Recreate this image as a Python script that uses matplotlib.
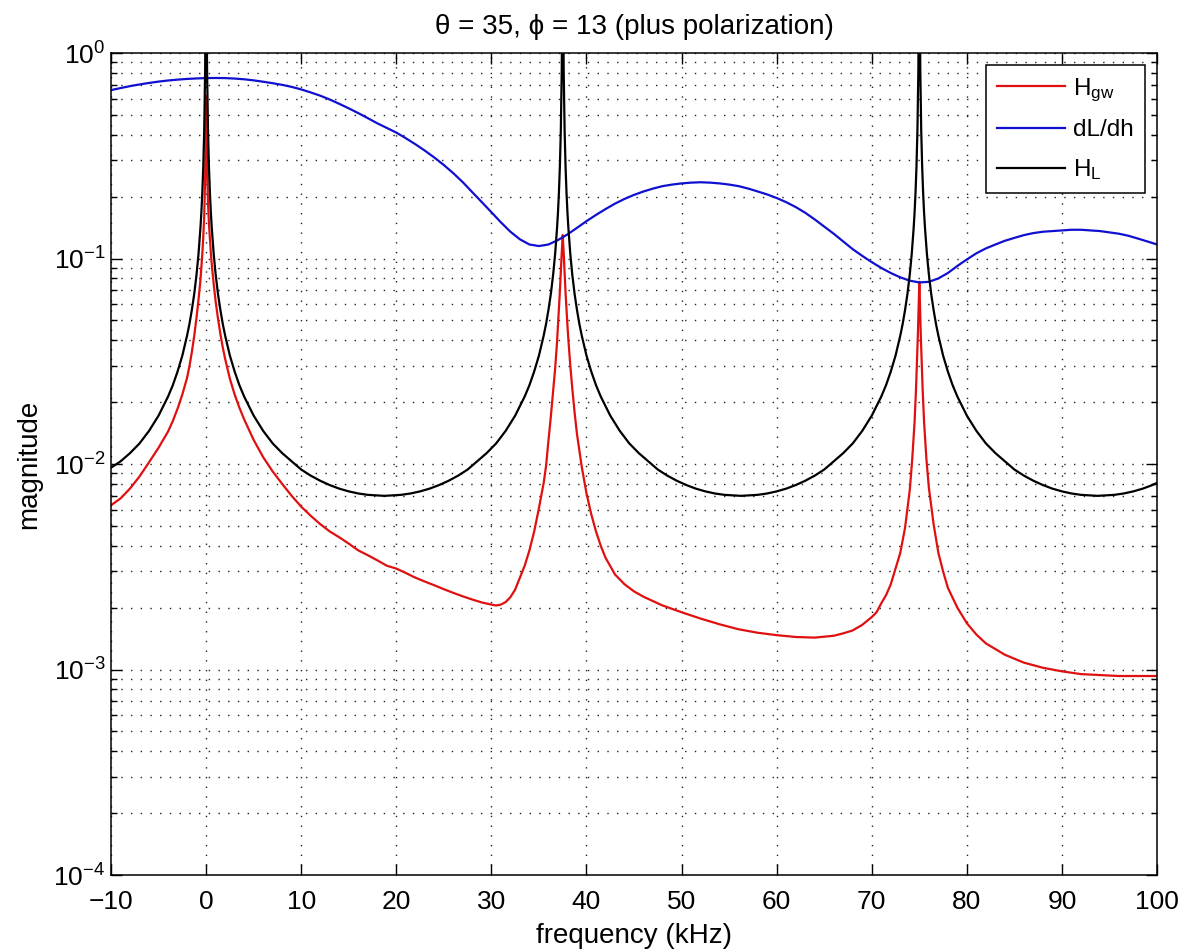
import matplotlib
matplotlib.use("Agg")
import matplotlib.pyplot as plt
from matplotlib.ticker import LogLocator, FixedLocator

plt.rcParams['font.family'] = ['Liberation Sans', 'DejaVu Sans']
plt.rcParams['mathtext.default'] = 'regular'

# H_gw (kHz, magnitude)
freq_gw = [-10, -9, -8, -7, -6, -5, -4, -3.5, -3, -2.5,
           -2, -1.75, -1.5, -1.25, -1, -0.8, -0.6, -0.5, -0.4, -0.3,
           -0.2, -0.1, -0.05, 0, 0.05, 0.1, 0.2, 0.3, 0.4, 0.5,
           0.6, 0.8, 1, 1.25, 1.5, 1.75, 2, 2.5, 3, 3.5,
           4, 5, 6, 7, 8, 9, 10, 11, 12, 13,
           14, 15, 16, 17, 18, 19, 20, 21, 22, 23,
           24, 25, 26, 27, 28, 29, 30, 30.5, 31, 31.5,
           32, 32.5, 33, 33.5, 34, 34.5, 35, 35.5, 35.75, 36,
           36.25, 36.5, 36.7, 36.9, 37, 37.1, 37.2, 37.3, 37.4, 37.5,
           37.6, 37.7, 37.8, 37.9, 38, 38.1, 38.3, 38.5, 38.75, 39,
           39.5, 40, 40.5, 41, 41.5, 42, 43, 44, 45, 46,
           48, 50, 52, 54, 56, 58, 60, 62, 64, 66,
           67, 68, 69, 70, 70.5, 71, 71.5, 72, 72.5, 73,
           73.5, 74, 74.25, 74.5, 74.65, 74.75, 74.85, 74.93, 75, 75.07,
           75.15, 75.25, 75.35, 75.5, 75.75, 76, 76.5, 77, 77.5, 78,
           79, 80, 81, 82, 84, 86, 88, 90, 92, 94,
           96, 98, 100]
h_gw = [0.0063, 0.0068, 0.0076, 0.0087, 0.0102, 0.0120, 0.0144, 0.0162, 0.0186, 0.0218,
        0.0263, 0.030, 0.035, 0.042, 0.052, 0.063, 0.078, 0.090, 0.105, 0.127,
        0.16, 0.25, 0.36, 0.62, 0.40, 0.28, 0.185, 0.148, 0.124, 0.106,
        0.093, 0.075, 0.062, 0.051, 0.043, 0.037, 0.0325, 0.026, 0.0218, 0.0188,
        0.0165, 0.0131, 0.0108, 0.0092, 0.0080, 0.0070, 0.0062, 0.0056, 0.0051, 0.0047,
        0.0044, 0.0041, 0.0038, 0.0036, 0.0034, 0.0032, 0.0031, 0.00295, 0.0028, 0.00268,
        0.00257, 0.00246, 0.00236, 0.00227, 0.00219, 0.00212, 0.00207, 0.00205, 0.00207, 0.00213,
        0.00225, 0.00245, 0.0028, 0.0032, 0.0038, 0.0047, 0.0061, 0.0081, 0.0098, 0.013,
        0.017, 0.023, 0.029, 0.039, 0.047, 0.057, 0.069, 0.086, 0.107, 0.13,
        0.107, 0.085, 0.068, 0.056, 0.047, 0.040, 0.030, 0.0235, 0.0178, 0.0140,
        0.0097, 0.0072, 0.0057, 0.0047, 0.0040, 0.0035, 0.0029, 0.0026, 0.0024, 0.00226,
        0.00205, 0.0019, 0.00177, 0.00166, 0.00157, 0.00151, 0.00147, 0.00144, 0.00143, 0.00146,
        0.0015, 0.00155, 0.00165, 0.0018, 0.0019, 0.0021, 0.0023, 0.0026, 0.0031, 0.0037,
        0.0049, 0.0075, 0.0105, 0.016, 0.023, 0.031, 0.043, 0.060, 0.077, 0.060,
        0.043, 0.031, 0.023, 0.016, 0.0105, 0.0077, 0.0051, 0.0037, 0.0030, 0.0025,
        0.0020, 0.00168, 0.00148, 0.00134, 0.00118, 0.00108, 0.00102, 0.00098, 0.00095, 0.00094,
        0.00093, 0.00093, 0.00093]

# H_L
freq_l = [-10, -9, -8, -7, -6, -5, -4, -3.5, -3, -2.5,
          -2, -1.75, -1.5, -1.25, -1, -0.8, -0.6, -0.5, -0.4, -0.3,
          -0.2, -0.1, 0, 0.1, 0.2, 0.3, 0.4, 0.5, 0.6, 0.8,
          1, 1.25, 1.5, 1.75, 2, 2.5, 3, 3.5, 4, 5,
          6, 7, 8, 9, 10, 11, 12, 13, 14, 15,
          16, 17, 18.75, 20.5, 21.5, 22.5, 23.5, 24.5, 25.5, 26.5,
          27.5, 28.5, 29.5, 30.5, 31.5, 32.5, 33.5, 34, 34.5, 35,
          35.5, 35.75, 36, 36.25, 36.5, 36.7, 36.9, 37, 37.1, 37.2,
          37.3, 37.4, 37.5, 37.6, 37.7, 37.8, 37.9, 38, 38.1, 38.3,
          38.5, 38.75, 39, 39.25, 39.5, 40, 40.5, 41, 41.5, 42.5,
          43.5, 44.5, 45.5, 46.5, 47.5, 48.5, 49.5, 50.5, 51.5, 52.5,
          53.5, 54.5, 56.25, 58, 59, 60, 61, 62, 63, 64,
          65, 66, 67, 68, 69, 70, 71, 71.5, 72, 72.5,
          73, 73.25, 73.5, 73.75, 74, 74.2, 74.4, 74.5, 74.6, 74.7,
          74.8, 74.9, 75, 75.1, 75.2, 75.3, 75.4, 75.5, 75.6, 75.8,
          76, 76.25, 76.5, 76.75, 77, 77.5, 78, 78.5, 79, 80,
          81, 82, 83, 84, 85, 86, 87, 88, 89, 90,
          91, 92, 93.75, 95.5, 96.5, 97.5, 98.5, 99.5, 100]
h_l = [0.0096, 0.0103, 0.0113, 0.0126, 0.0145, 0.0172, 0.0213, 0.0242, 0.0282, 0.0337,
       0.0422, 0.0481, 0.0562, 0.0672, 0.084, 0.105, 0.140, 0.167, 0.209, 0.279,
       0.418, 0.836, 5.0, 0.836, 0.418, 0.279, 0.209, 0.167, 0.140, 0.105,
       0.084, 0.0672, 0.0562, 0.0481, 0.0422, 0.0337, 0.0282, 0.0242, 0.0213, 0.0172,
       0.0145, 0.0126, 0.0113, 0.0103, 0.0094, 0.00878, 0.00829, 0.0079, 0.00759, 0.00736,
       0.00719, 0.00708, 0.0070, 0.00708, 0.00719, 0.00736, 0.00759, 0.0079, 0.00829, 0.00878,
       0.0094, 0.0103, 0.0113, 0.0126, 0.0145, 0.0172, 0.0213, 0.0242, 0.0282, 0.0337,
       0.0422, 0.0481, 0.0562, 0.0672, 0.084, 0.105, 0.140, 0.167, 0.209, 0.279,
       0.418, 0.836, 5.0, 0.836, 0.418, 0.279, 0.209, 0.167, 0.140, 0.105,
       0.084, 0.0672, 0.0562, 0.0481, 0.0422, 0.0337, 0.0282, 0.0242, 0.0213, 0.0172,
       0.0145, 0.0126, 0.0113, 0.0103, 0.0094, 0.00878, 0.00829, 0.0079, 0.00759, 0.00736,
       0.00719, 0.00708, 0.0070, 0.00708, 0.00719, 0.00736, 0.00759, 0.0079, 0.00829, 0.00878,
       0.0094, 0.0103, 0.0113, 0.0126, 0.0145, 0.0172, 0.0213, 0.0242, 0.0282, 0.0337,
       0.0422, 0.0481, 0.0562, 0.0672, 0.084, 0.105, 0.140, 0.167, 0.209, 0.279,
       0.418, 0.836, 5.0, 0.836, 0.418, 0.279, 0.209, 0.167, 0.140, 0.105,
       0.084, 0.0672, 0.0562, 0.0481, 0.0422, 0.0337, 0.0282, 0.0242, 0.0213, 0.0172,
       0.0145, 0.0126, 0.0113, 0.0103, 0.0094, 0.00878, 0.00829, 0.0079, 0.00759, 0.00736,
       0.00719, 0.00708, 0.0070, 0.00708, 0.00719, 0.00736, 0.00759, 0.0079, 0.0081]

# dL/dh, one value per kHz from -10 to 100
freq_d = list(range(-10, 101))
dl_dh = [0.660, 0.675, 0.690, 0.703, 0.715, 0.726, 0.735, 0.742, 0.748, 0.752,
         0.755, 0.756, 0.755, 0.751, 0.745, 0.736, 0.725, 0.713, 0.700, 0.684,
         0.665, 0.643, 0.620, 0.594, 0.566, 0.538, 0.510, 0.482, 0.455, 0.432,
         0.410, 0.385, 0.360, 0.335, 0.310, 0.285, 0.260, 0.235, 0.210, 0.188,
         0.168, 0.150, 0.135, 0.124, 0.117, 0.115, 0.117, 0.123, 0.131, 0.141,
         0.152, 0.163, 0.174, 0.185, 0.195, 0.204, 0.212, 0.219, 0.225, 0.229,
         0.232, 0.234, 0.235, 0.234, 0.232, 0.229, 0.225, 0.219, 0.212, 0.205,
         0.197, 0.188, 0.178, 0.167, 0.155, 0.143, 0.132, 0.121, 0.111, 0.103,
         0.096, 0.090, 0.085, 0.081, 0.078, 0.0765, 0.077, 0.080, 0.085, 0.092,
         0.099, 0.106, 0.112, 0.117, 0.122, 0.126, 0.130, 0.133, 0.135, 0.136,
         0.137, 0.138, 0.138, 0.137, 0.136, 0.134, 0.132, 0.129, 0.125, 0.121,
         0.117]

fig = plt.figure(figsize=(11.86, 9.5), dpi=100)
ax = fig.add_axes([0.0936, 0.0789, 0.882, 0.8653])

ax.semilogy(freq_gw, h_gw, color="#e01010", lw=1.6, label="H$_{gw}$")
ax.semilogy(freq_d, dl_dh, color="#1010d0", lw=1.6, label="dL/dh")
ax.semilogy(freq_l, h_l, color="black", lw=1.6, label="H$_{L}$")

ax.set_xlim(-10, 100)
ax.set_ylim(1e-4, 1)
ax.xaxis.set_major_locator(FixedLocator(list(range(-10, 101, 10))))
ax.yaxis.set_major_locator(LogLocator(base=10, numticks=10))
ax.yaxis.set_minor_locator(LogLocator(base=10, subs=range(2, 10), numticks=20))

dots = (0, (1, 6))
ax.grid(True, which="major", axis="both", color="#222222", lw=1, linestyle=dots)
ax.grid(True, which="minor", axis="y", color="#222222", lw=1, linestyle=dots)

ax.tick_params(which="both", direction="in", top=True, right=True, labelsize=19,
               width=1)
ax.tick_params(which="major", length=8)
ax.tick_params(which="minor", length=4.3)
ax.tick_params(axis="x", pad=11)
ax.tick_params(axis="y", pad=4)
for s in ax.spines.values():
    s.set_linewidth(1.1)

ax.set_xlabel("frequency (kHz)", fontsize=20, labelpad=6)
ax.set_ylabel("magnitude", fontsize=20, labelpad=8)
ax.set_title("\u03b8 = 35, \u03d5 = 13 (plus polarization)", fontsize=20, pad=14)

leg = ax.legend(loc="upper right", fontsize=17.5, fancybox=False, framealpha=1,
                edgecolor="black", handlelength=2.8, borderaxespad=0.5,
                labelspacing=0.65, handletextpad=0.35, borderpad=0.45)
leg.get_frame().set_linewidth(1.1)

fig.savefig("out.png", dpi=100)
